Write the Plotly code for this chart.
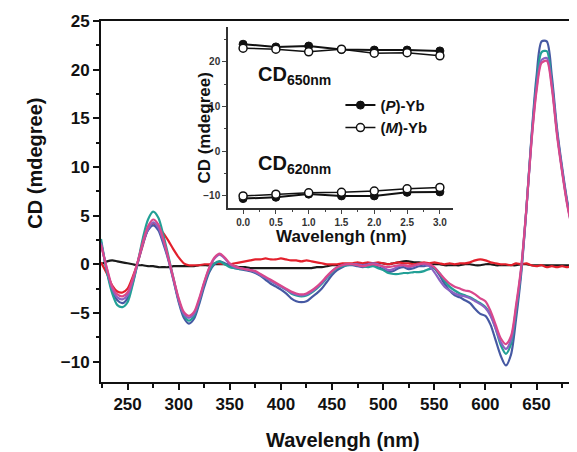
import plotly.graph_objects as go

# ---------------- data ----------------
WAVELENGTH = [
    224, 230, 235, 240, 245, 250, 255, 260, 265, 270,
    275, 280, 285, 290, 295, 300, 305, 310, 315, 320,
    325, 330, 335, 340, 345, 350, 355, 360, 365, 370,
    375, 380, 385, 390, 395, 400, 405, 410, 415, 420,
    425, 430, 435, 440, 445, 450, 455, 460, 465, 470,
    475, 480, 485, 490, 495, 500, 505, 510, 515, 520,
    525, 530, 535, 540, 545, 550, 555, 560, 565, 570,
    575, 580, 585, 590, 595, 600, 605, 610, 615, 620,
    625, 630, 635, 640, 645, 650, 655, 660, 665, 670,
    675, 680, 685, 689,
]

CD_BLACK = [
    0.0, 0.3, 0.4, 0.3, 0.2, 0.1, 0.0, -0.1, -0.1, -0.2,
    -0.2, -0.3, -0.3, -0.3, -0.2, -0.2, -0.2, -0.2, -0.2, -0.1,
    -0.1, -0.1, 0.0, 0.0, 0.0, -0.1, -0.2, -0.3, -0.3, -0.4,
    -0.4, -0.4, -0.4, -0.4, -0.4, -0.4, -0.4, -0.4, -0.4, -0.4,
    -0.4, -0.4, -0.3, -0.3, -0.2, -0.1, -0.1, 0.0, 0.0, 0.0,
    0.0, 0.0, 0.1, 0.1, 0.1, 0.1, 0.0, 0.1, 0.2, 0.3,
    0.3, 0.2, 0.2, 0.1, 0.0, 0.0, 0.0, -0.1, -0.1, -0.1,
    -0.1, 0.0, 0.0, -0.1, -0.1, 0.0, 0.0, -0.1, -0.1, -0.1,
    -0.1, -0.1, 0.0, 0.0, -0.1, -0.1, -0.1, -0.1, -0.1, -0.1,
    -0.1, -0.1, -0.1, -0.1,
]

CD_RED = [
    0.2, -1.0, -2.2, -2.8, -2.9, -2.5, -1.3, 0.2, 2.0, 3.6,
    4.2, 3.8, 3.2, 2.4, 1.5, 0.7, 0.1, -0.1, -0.1, -0.1,
    0.0, 0.0, 0.1, 0.1, 0.0, 0.0, 0.1, 0.2, 0.3, 0.4,
    0.5, 0.5, 0.6, 0.5, 0.5, 0.6, 0.5, 0.4, 0.4, 0.3,
    0.4, 0.3, 0.2, 0.1, 0.0, 0.0, 0.0, 0.1, 0.1, 0.1,
    0.2, 0.1, 0.2, 0.1, 0.2, 0.1, 0.0, 0.1, 0.2, 0.1,
    0.1, 0.0, 0.1, 0.2, 0.1, 0.2, 0.1, 0.0, 0.1, 0.0,
    0.1, 0.1, 0.2, 0.4, 0.5, 0.4, 0.2, 0.1, 0.0, 0.0,
    -0.1, 0.1, 0.0, 0.1, -0.1, -0.2, -0.1, -0.3, -0.2, -0.3,
    -0.2, -0.3, -0.2, -0.3,
]

CD_BLUE = [
    2.3, -0.8, -2.7, -3.7, -4.0, -3.5, -1.9, 0.2, 2.2, 3.5,
    4.0, 3.5, 2.1, 0.4, -1.7, -3.9, -5.5, -6.1, -5.6, -4.1,
    -2.3, -0.8, 0.0, 0.3, 0.1, -0.2, -0.4, -0.5, -0.6, -0.7,
    -0.9, -1.2, -1.6, -2.0, -2.3, -2.6, -3.0, -3.5, -3.8, -3.9,
    -3.8, -3.4, -3.0, -2.5, -1.8, -1.1, -0.6, -0.3, -0.1, -0.1,
    -0.2, -0.3, -0.2, -0.1, -0.3, -0.5, -0.8, -0.7, -0.4, -0.3,
    -0.5, -0.4, -0.2, -0.2, -0.1, -0.4, -1.1, -2.0, -2.7, -3.2,
    -3.4, -3.7, -4.0, -4.6, -5.1, -5.3, -6.2, -7.8, -9.4, -10.4,
    -9.3, -5.6, -1.0, 5.5, 13.0, 19.3, 22.9, 22.9, 19.3, 14.0,
    10.0, 6.5, 3.8, 1.5,
]

CD_TEAL = [
    2.6, -0.9, -3.0, -4.2, -4.4, -3.9, -2.1, 0.2, 2.7, 4.6,
    5.4, 4.8, 3.0, 0.8, -1.5, -3.7, -5.2, -5.8, -5.3, -3.8,
    -2.0, -0.6, 0.1, 0.3, 0.0, -0.3, -0.4, -0.5, -0.5, -0.6,
    -0.8, -1.1, -1.4, -1.7, -2.0, -2.3, -2.6, -3.0, -3.2, -3.3,
    -3.2, -2.9, -2.5, -2.0, -1.4, -0.8, -0.4, -0.2, -0.1, 0.0,
    -0.1, -0.2, -0.3, -0.2, -0.4, -0.6, -0.9, -1.0, -1.0, -0.9,
    -0.9, -0.8, -0.8, -0.7, -0.5, -0.4, -0.9, -1.7, -2.3, -2.7,
    -3.0, -3.2, -3.4, -3.7, -4.0, -4.4, -5.2, -6.6, -8.3, -9.2,
    -8.2, -4.9, -0.6, 5.6, 12.8, 18.6, 21.8, 21.9, 18.6, 13.6,
    9.7, 6.3, 3.7, 1.4,
]

CD_PURPLE = [
    2.2, -0.6, -2.5, -3.4, -3.6, -3.2, -1.7, 0.2, 2.1, 3.6,
    4.3, 3.8, 2.4, 0.5, -1.6, -3.7, -5.1, -5.5, -5.1, -3.7,
    -1.9, -0.4, 0.6, 1.0, 0.6, 0.0, -0.3, -0.4, -0.5, -0.6,
    -0.8, -1.1, -1.4, -1.7, -2.0, -2.3, -2.6, -2.9, -3.1, -3.2,
    -3.1, -2.8, -2.4, -1.9, -1.3, -0.7, -0.3, -0.1, 0.0, 0.0,
    0.0, -0.1, 0.0, 0.1, 0.0, -0.3, -0.6, -0.5, -0.2, -0.1,
    -0.3, -0.2, 0.0, 0.0, -0.2, -0.8, -1.6, -2.3, -2.7, -3.0,
    -3.2, -3.3, -3.5, -3.8, -4.1, -4.5, -5.3, -6.6, -8.0, -8.7,
    -7.8, -4.5, -0.5, 5.5, 12.6, 18.1, 21.0, 21.2, 18.4, 13.6,
    9.7, 6.3, 3.6, 1.3,
]

CD_PINK = [
    2.0, -0.5, -2.3, -3.1, -3.3, -2.9, -1.5, 0.3, 2.3, 3.9,
    4.6, 4.1, 2.6, 0.6, -1.5, -3.5, -4.9, -5.3, -4.9, -3.5,
    -1.8, -0.3, 0.7, 1.1, 0.7, 0.1, -0.2, -0.4, -0.5, -0.6,
    -0.7, -1.0, -1.3, -1.6, -1.9, -2.2, -2.5, -2.8, -3.0, -3.1,
    -3.0, -2.7, -2.3, -1.8, -1.2, -0.7, -0.3, -0.1, 0.0, 0.0,
    -0.1, -0.2, -0.1, 0.0, -0.1, -0.2, -0.3, -0.2, -0.1, -0.1,
    -0.2, -0.1, 0.0, 0.1, 0.0, -0.3, -0.9, -1.5, -2.0, -2.3,
    -2.5, -2.7, -2.8, -3.1, -3.5, -3.8, -4.8, -6.2, -7.6, -8.2,
    -7.4, -4.2, -0.3, 5.6, 12.5, 17.8, 20.7, 20.9, 18.1, 13.3,
    9.5, 6.1, 3.5, 1.3,
]

# inset data
INSET_X = [0.0, 0.5, 1.0, 1.5, 2.0, 2.5, 3.0]
P_YB_650 = [23.9, 23.3, 23.5, 22.7, 22.6, 22.6, 22.4]
M_YB_650 = [23.0, 22.8, 22.2, 22.8, 21.9, 22.0, 21.3]
P_YB_620 = [-10.6, -10.3, -9.6, -10.0, -10.0, -9.2, -9.1]
M_YB_620 = [-10.0, -9.6, -9.3, -9.2, -8.9, -8.4, -8.1]

MAIN_SERIES = [
    ("black", CD_BLACK, "#1a1a1a"),
    ("red", CD_RED, "#e3202c"),
    ("blue", CD_BLUE, "#4659a3"),
    ("teal", CD_TEAL, "#22a096"),
    ("purple", CD_PURPLE, "#8a62c2"),
    ("pink", CD_PINK, "#d9488c"),
]

FONT = "Liberation Sans, Arial, sans-serif"

fig = go.Figure()

for name, vals, col in MAIN_SERIES:
    fig.add_trace(go.Scatter(
        x=WAVELENGTH, y=vals, mode="lines", name=name,
        line=dict(color=col, width=2.2, shape="spline", smoothing=0.8),
        showlegend=False, xaxis="x", yaxis="y",
    ))

# inset traces
ix = INSET_X + [None] + INSET_X
fig.add_trace(go.Scatter(
    x=ix, y=P_YB_650 + [None] + P_YB_620, mode="lines+markers",
    name="(<i>P</i>)-Yb",
    line=dict(color="#111111", width=2),
    marker=dict(symbol="circle", size=8, color="#111111",
                line=dict(color="#111111", width=1)),
    xaxis="x2", yaxis="y2", showlegend=True,
))
fig.add_trace(go.Scatter(
    x=ix, y=M_YB_650 + [None] + M_YB_620, mode="lines+markers",
    name="(<i>M</i>)-Yb",
    line=dict(color="#111111", width=1.5),
    marker=dict(symbol="circle", size=8, color="white",
                line=dict(color="#111111", width=1.5)),
    xaxis="x2", yaxis="y2", showlegend=True,
))

tickfont_main = dict(family=FONT, size=17, color="#111111", weight="bold")
tickfont_inset = dict(family=FONT, size=10, color="#333333", weight="bold")

# the page body adds an 8px offset, so the figure is sized to compensate
fig.update_layout(
    width=569, height=444,
    margin=dict(l=93, r=0, t=13, b=70, autoexpand=False),
    paper_bgcolor="white", plot_bgcolor="white",
    font=dict(family=FONT, color="#111111"),
    xaxis=dict(
        range=[224, 689.6], domain=[0, 1], automargin=False,
        tickvals=[250, 300, 350, 400, 450, 500, 550, 600, 650],
        ticks="outside", ticklen=6, tickwidth=2, tickcolor="#111111",
        minor=dict(dtick=25, tick0=225, ticks="outside", ticklen=3.5,
                   tickwidth=1.5, tickcolor="#111111"),
        showline=True, linecolor="#111111", linewidth=2, mirror=True,
        showgrid=False, zeroline=False, tickfont=tickfont_main,
    ),
    yaxis=dict(
        range=[-12.1, 25], domain=[0, 1], automargin=False,
        tickvals=[-10, -5, 0, 5, 10, 15, 20, 25],
        ticks="outside", ticklen=6, tickwidth=2, tickcolor="#111111",
        minor=dict(dtick=2.5, tick0=0, ticks="outside", ticklen=3.5,
                   tickwidth=1.5, tickcolor="#111111"),
        showline=True, linecolor="#111111", linewidth=2, mirror=False,
        showgrid=False, zeroline=False, tickfont=tickfont_main,
    ),
    xaxis2=dict(
        domain=[0.2668, 0.7395], anchor="y2", automargin=False,
        range=[-0.23, 3.2],
        tickvals=[0, 0.5, 1, 1.5, 2, 2.5, 3],
        ticktext=["0.0", "0.5", "1.0", "1.5", "2.0", "2.5", "3.0"],
        ticks="outside", ticklen=4, tickwidth=1, tickcolor="#444444",
        minor=dict(dtick=0.25, tick0=0, ticks="outside", ticklen=2,
                   tickwidth=1, tickcolor="#444444"),
        showline=True, linecolor="#333333", linewidth=1.5,
        showgrid=False, zeroline=False, tickfont=tickfont_inset,
    ),
    yaxis2=dict(
        domain=[0.482, 0.984], anchor="x2", automargin=False,
        range=[-12.7, 27.8],
        tickvals=[-10, 0, 10, 20],
        ticks="outside", ticklen=4, tickwidth=1, tickcolor="#444444",
        minor=dict(dtick=5, tick0=0, ticks="outside", ticklen=2,
                   tickwidth=1, tickcolor="#444444"),
        showline=True, linecolor="#333333", linewidth=1.5,
        showgrid=False, zeroline=False, tickfont=tickfont_inset,
    ),
    legend=dict(
        x=0.503, y=0.812, xanchor="left", yanchor="top",
        bgcolor="rgba(0,0,0,0)", borderwidth=0,
        font=dict(family=FONT, size=15, color="#111111", weight="bold"),
        itemwidth=30, tracegroupgap=0,
    ),
    annotations=[
        dict(text="Wavelengh (nm)", xref="paper", yref="paper",
             x=0.508, y=-0.161, xanchor="center", yanchor="middle",
             showarrow=False,
             font=dict(family=FONT, size=20, color="#111111", weight="bold")),
        dict(text="CD (mdegree)", xref="paper", yref="paper",
             x=-0.139, y=0.607, xanchor="center", yanchor="middle",
             textangle=-90, showarrow=False,
             font=dict(family=FONT, size=20, color="#111111", weight="bold")),
        dict(text="Wavelengh (nm)", xref="paper", yref="paper",
             x=0.506, y=0.402, xanchor="center", yanchor="middle",
             showarrow=False,
             font=dict(family=FONT, size=17, color="#111111", weight="bold")),
        dict(text="CD (mdegree)", xref="paper", yref="paper",
             x=0.218, y=0.704, xanchor="center", yanchor="middle",
             textangle=-90, showarrow=False,
             font=dict(family=FONT, size=17, color="#111111", weight="bold")),
        dict(text="CD<sub>650nm</sub>", xref="paper", yref="paper",
             x=0.326, y=0.850, xanchor="left", yanchor="middle",
             showarrow=False,
             font=dict(family=FONT, size=20, color="#111111", weight="bold")),
        dict(text="CD<sub>620nm</sub>", xref="paper", yref="paper",
             x=0.326, y=0.603, xanchor="left", yanchor="middle",
             showarrow=False,
             font=dict(family=FONT, size=20, color="#111111", weight="bold")),
    ],
)

fig.write_html("out.html")
